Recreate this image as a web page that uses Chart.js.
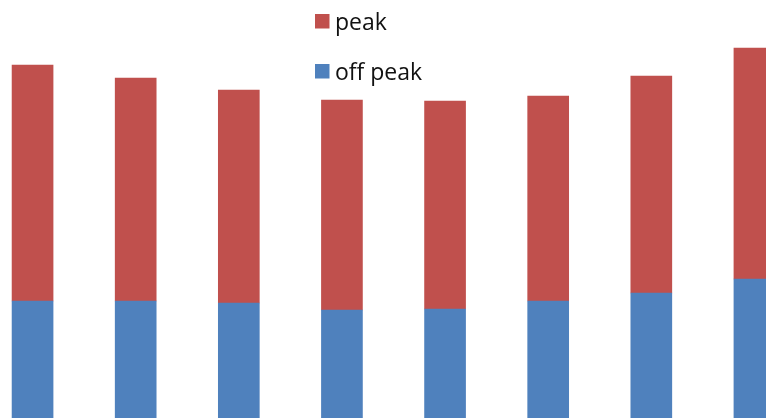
<!DOCTYPE html>
<html>
<head>
<meta charset="utf-8">
<script src="https://cdn.jsdelivr.net/npm/chart.js@4.4.1/dist/chart.umd.min.js"></script>
<style>
  html, body { margin: 0; padding: 0; background: #ffffff; }
  #frame { position: relative; width: 766px; height: 418px; overflow: hidden; background: #ffffff; }
  #holder { position: absolute; left: -19px; top: 0; width: 825px; height: 418px; }
</style>
</head>
<body>
<div id="frame">
  <div id="holder"><canvas id="chart"></canvas></div>
</div>
<script>
// Periods along the horizontal axis
const categories = ['1', '2', '3', '4', '5', '6', '7', '8'];
// Stacked consumption per period
const offPeak = [117, 117, 115, 108, 109, 117, 125, 139];
const peak = [236, 223, 213, 210, 208, 205, 217, 231];
// Vertical range of the plot
const yMin = 0;
const yMax = 418;

const BLUE = '#4F81BD';
const RED = '#C0504D';

// Legend drawn as a vertical list, last series on top
const stackedLegend = {
  id: 'stackedLegend',
  afterDraw(chart) {
    const ctx = chart.ctx;
    const items = chart.data.datasets.slice().reverse();
    const x0 = 334;   // square left, canvas coords
    const y0 = 14;
    const gap = 50;
    ctx.save();
    ctx.font = '23px "Open Sans", sans-serif';
    ctx.textBaseline = 'alphabetic';
    ctx.textAlign = 'left';
    items.forEach((ds, i) => {
      const y = y0 + i * gap;
      ctx.fillStyle = ds.backgroundColor;
      ctx.fillRect(x0, y, 14.5, 14.5);
      ctx.fillStyle = '#111111';
      ctx.fillText(ds.label, x0 + 20, y + 16);
    });
    ctx.restore();
  }
};

new Chart(document.getElementById('chart'), {
  type: 'bar',
  data: {
    labels: categories,
    datasets: [
      { label: 'off peak', data: offPeak, backgroundColor: BLUE, borderWidth: 0 },
      { label: 'peak', data: peak, backgroundColor: RED, borderWidth: 0 }
    ]
  },
  options: {
    responsive: true,
    maintainAspectRatio: false,
    animation: false,
    layout: { padding: 0 },
    datasets: { bar: { barThickness: 41 } },
    plugins: {
      legend: { display: false },
      tooltip: { enabled: false }
    },
    scales: {
      x: { stacked: true, display: false, offset: true, grid: { display: false } },
      y: { stacked: true, display: false, min: yMin, max: yMax, grid: { display: false } }
    }
  },
  plugins: [stackedLegend]
});
</script>
</body>
</html>
